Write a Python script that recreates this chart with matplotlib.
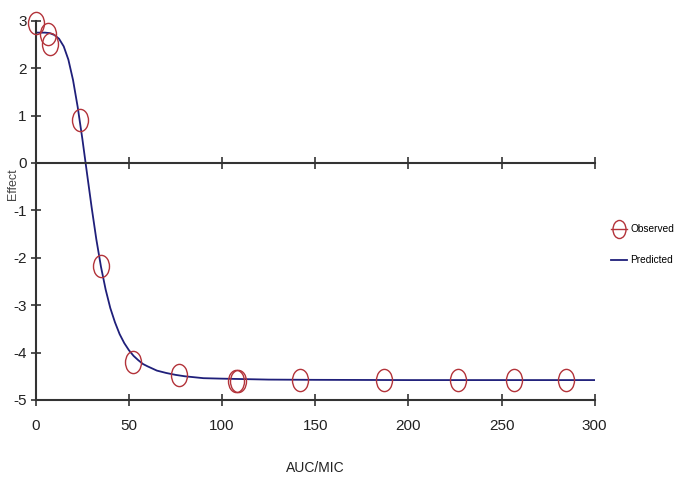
import matplotlib.pyplot as plt
from matplotlib.path import Path
from matplotlib.transforms import Affine2D
from matplotlib.lines import Line2D

plt.rcParams['font.family'] = ['Liberation Sans', 'DejaVu Sans']
plt.rcParams['axes.unicode_minus'] = False

# observed points (AUC/MIC, effect)
obs_x = [0, 6.4, 7.5, 23.6, 34.9, 52, 76.8, 107.4, 108.4, 141.7, 186.8, 226.5, 256.6, 284.5]
obs_y = [2.95, 2.72, 2.5, 0.9, -2.17, -4.2, -4.47, -4.6, -4.6, -4.58, -4.58, -4.58, -4.58, -4.58]

# predicted curve
pred_x = [0, 5, 7.5, 10, 12.5, 15, 17.5, 20, 22.5, 25, 27.5, 30, 32.5, 35, 37.5, 40, 42.5, 45, 47.5,
          50, 52.5, 55, 57.5, 60, 65, 70, 75, 80, 90, 100, 125, 150, 200, 250, 300]
pred_y = [2.75, 2.75, 2.74, 2.70, 2.62, 2.46, 2.18, 1.75, 1.18, 0.51, -0.22, -0.94, -1.61, -2.19, -2.67,
          -3.06, -3.36, -3.61, -3.80, -3.95, -4.07, -4.16, -4.24, -4.29, -4.38, -4.43, -4.47, -4.50,
          -4.54, -4.55, -4.57, -4.575, -4.58, -4.58, -4.58]

xticks = [0, 50, 100, 150, 200, 250, 300]
yticks = [-5, -4, -3, -2, -1, 0, 1, 2, 3]

# slightly tall ellipse marker like the original
ellipse = Path.unit_circle().transformed(Affine2D().scale(0.72, 1.0))

fig = plt.figure(figsize=(6.75, 4.8), dpi=100)
ax = fig.add_axes([0.053, 0.1667, 0.828, 0.79])

red = '#b3333a'
navy = '#1f1f7a'
axc = '#333333'

ax.plot(pred_x, pred_y, color=navy, lw=1.3, zorder=2)
ax.plot(obs_x, obs_y, ls='none', marker=ellipse, ms=16, mfc='none', mec=red, mew=1.0, clip_on=False, zorder=3)

ax.set_xlim(0, 300)
ax.set_ylim(-5, 3)
ax.set_xticks(xticks)
ax.set_yticks(yticks)

ax.spines['right'].set_visible(False)
ax.spines['top'].set_position(('data', 0))
for s in ['left', 'bottom', 'top']:
    ax.spines[s].set_color(axc)
    ax.spines[s].set_linewidth(1.5)

ax.tick_params(axis='x', which='both', top=True, direction='inout', length=9, width=1.2,
               color=axc, pad=9, labelsize=11, labelcolor='#222222')
ax.tick_params(axis='y', direction='inout', length=7, width=1.2, color=axc, pad=3,
               labelsize=11, labelcolor='#222222')

ax.set_xlabel('AUC/MIC', fontsize=10, labelpad=20, color='#222222')
ax.set_ylabel('Effect', fontsize=9, color='#444444')
ax.yaxis.set_label_coords(-0.03, 0.57)

handles = [
    Line2D([], [], color=red, lw=1.0, marker=ellipse, ms=13, mfc='none', mec=red),
    Line2D([], [], color=navy, lw=1.3),
]
fig.legend(handles, ['Observed', 'Predicted'], loc='center left', bbox_to_anchor=(0.905, 0.49),
           frameon=False, fontsize=7.3, handlelength=1.6, labelspacing=2.1, handletextpad=0.3,
           borderpad=0, borderaxespad=0)

fig.savefig('out.png', dpi=100)
plt.close(fig)
